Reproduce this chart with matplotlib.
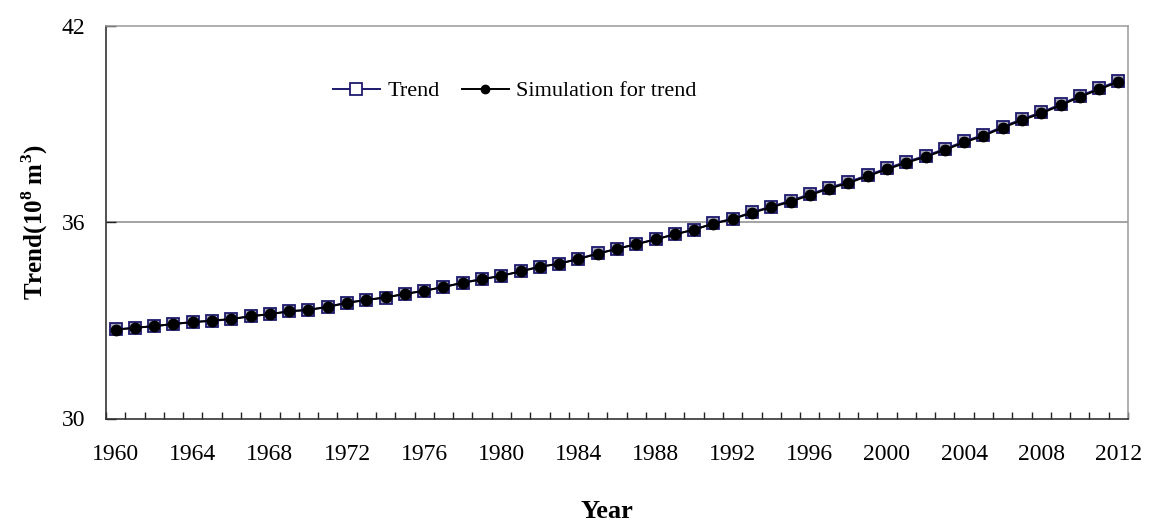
import matplotlib
matplotlib.use("Agg")
import matplotlib.pyplot as plt
from matplotlib.lines import Line2D
from matplotlib.ticker import FixedLocator, NullFormatter

plt.rcParams['font.family'] = ['Liberation Serif', 'DejaVu Serif']
plt.rcParams['mathtext.fontset'] = 'custom'
plt.rcParams['mathtext.rm'] = 'Liberation Serif:bold'
plt.rcParams['mathtext.bf'] = 'Liberation Serif:bold'

years = list(range(1960, 2013))

trend = [32.72, 32.77, 32.82, 32.88, 32.95, 32.98, 33.03, 33.13, 33.18, 33.28,
         33.31, 33.41, 33.54, 33.62, 33.69, 33.81, 33.90, 34.01, 34.15, 34.26,
         34.35, 34.50, 34.64, 34.72, 34.88, 35.04, 35.18, 35.33, 35.47, 35.63,
         35.76, 35.96, 36.10, 36.30, 36.47, 36.65, 36.85, 37.05, 37.22, 37.43,
         37.64, 37.84, 38.02, 38.23, 38.46, 38.66, 38.91, 39.14, 39.35, 39.59,
         39.85, 40.08, 40.31]

simulation = [32.71, 32.77, 32.82, 32.89, 32.94, 32.99, 33.04, 33.12, 33.19, 33.27,
              33.32, 33.41, 33.53, 33.62, 33.70, 33.80, 33.90, 34.02, 34.14, 34.25,
              34.36, 34.49, 34.63, 34.73, 34.87, 35.03, 35.18, 35.32, 35.47, 35.62,
              35.77, 35.95, 36.09, 36.28, 36.45, 36.62, 36.82, 37.02, 37.19, 37.40,
              37.61, 37.81, 37.99, 38.20, 38.43, 38.63, 38.88, 39.11, 39.32, 39.56,
              39.82, 40.05, 40.28]

year_ticks = list(range(1960, 2013, 4))
y_ticks = [30, 36, 42]

navy = '#1e1a6e'

fig = plt.figure(figsize=(11.53, 5.29), dpi=100)
ax = fig.add_axes([106 / 1153, 1 - 418.5 / 529, (1128 - 106) / 1153, (418.5 - 25.5) / 529])

ax.plot(years, trend, color=navy, lw=1.4, marker='s', markersize=9,
        markerfacecolor='#a9a9bd', markeredgecolor=navy, markeredgewidth=1.3, zorder=3)
ax.plot(years, simulation, color='black', lw=1.4, marker='o', markersize=7.5,
        markerfacecolor='black', markeredgecolor='black', zorder=4)

ax.set_xlim(1959.5, 2012.5)
ax.set_ylim(30, 42)

ax.xaxis.set_major_locator(FixedLocator(year_ticks))
ax.xaxis.set_minor_locator(FixedLocator([y + 0.5 for y in range(1959, 2013)]))
ax.xaxis.set_minor_formatter(NullFormatter())
ax.tick_params(axis='x', which='major', length=0, pad=18, labelsize=17)
ax.tick_params(axis='x', which='minor', direction='in', length=5, width=1, color='#222222')

ax.set_yticks(y_ticks)
ax.tick_params(axis='y', which='major', direction='in', length=7, width=1,
               color='#222222', pad=15, labelsize=17)

ax.axhline(36, color='#8a8a8a', lw=1.1, zorder=1)

for side in ('left', 'bottom'):
    ax.spines[side].set_color('#333333')
    ax.spines[side].set_linewidth(1.2)
for side in ('top', 'right'):
    ax.spines[side].set_color('#9a9a9a')
    ax.spines[side].set_linewidth(1.1)

ax.set_ylabel(r'Trend(10$^{8}$ m$^{3}$)', fontsize=18, fontweight='bold')
ax.yaxis.set_label_coords(-0.055, 0.5)
fig.text(607 / 1153, 1 - 512 / 529, 'Year', fontsize=19, fontweight='bold',
         ha='center', va='center')

handles = [
    Line2D([], [], color=navy, lw=1.4, marker='s', markersize=9,
           markerfacecolor='white', markeredgecolor=navy, markeredgewidth=1.3),
    Line2D([], [], color='black', lw=1.4, marker='o', markersize=6,
           markerfacecolor='black'),
]
fig.legend(handles, ['Trend', 'Simulation for trend'], loc='center left',
           bbox_to_anchor=(333 / 1153, 1 - 91 / 529), ncol=2, frameon=False,
           fontsize=16, handlelength=2.1, handletextpad=0.35, columnspacing=1.0,
           borderpad=0, borderaxespad=0)

fig.savefig('out.png', dpi=100)
